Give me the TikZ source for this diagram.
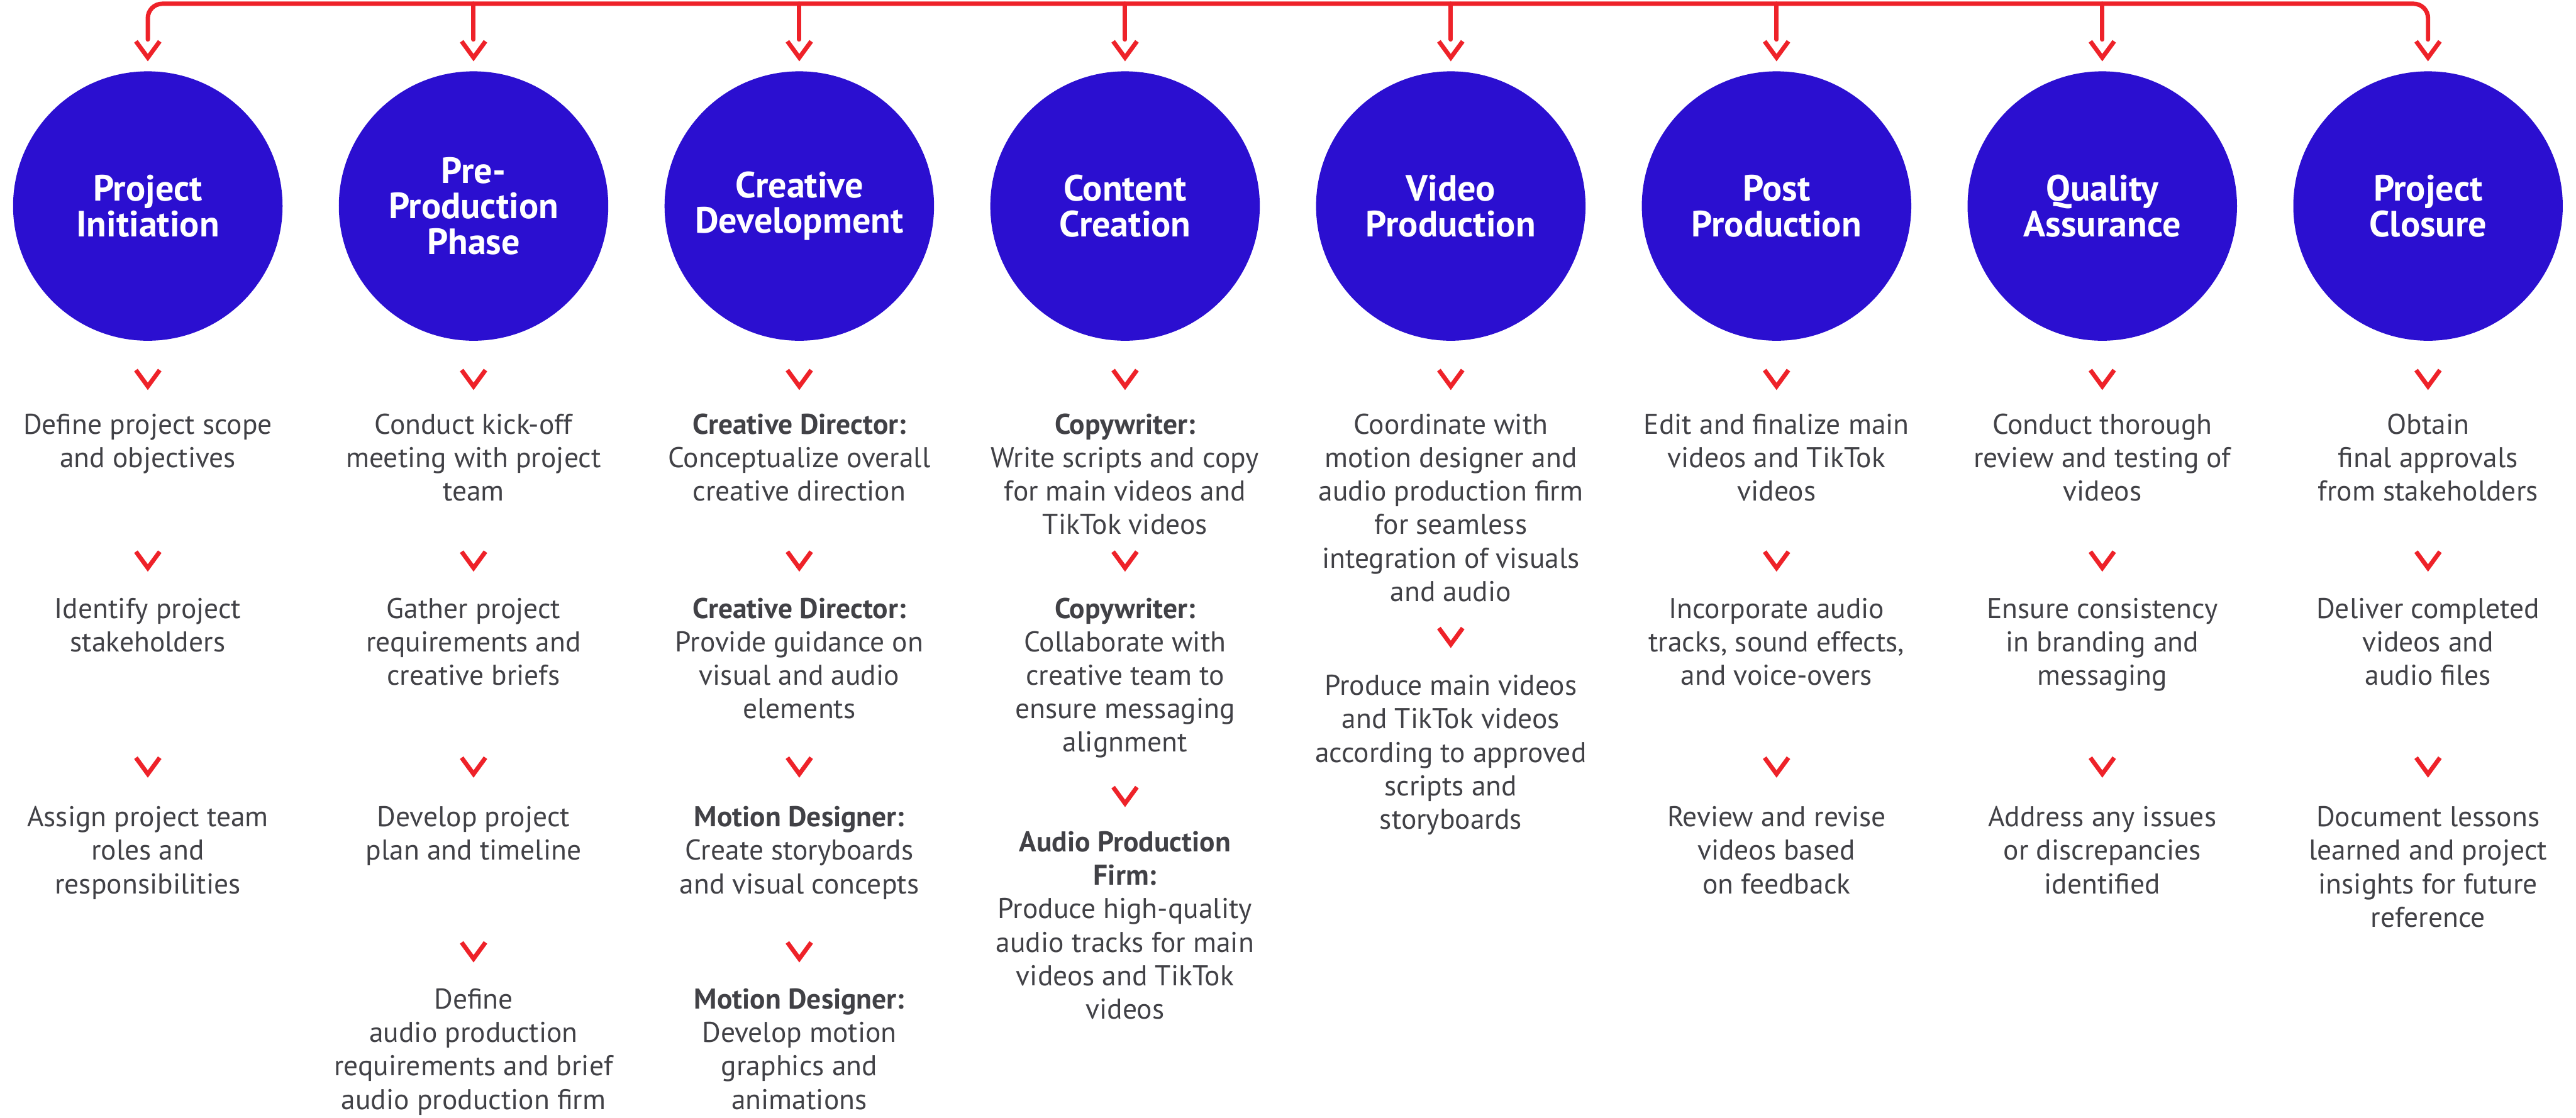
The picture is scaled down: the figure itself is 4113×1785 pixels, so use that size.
\documentclass[tikz,border=0pt]{standalone}
\usepackage{fontspec}
\setmainfont{PT Sans}
\usepackage{xcolor}
\usepackage{tikz}

\definecolor{phaseblue}{HTML}{2B0FD0}
\definecolor{flowred}{HTML}{EE2229}
\definecolor{bodygray}{HTML}{414146}

\tikzset{
  phase/.style={circle, fill=phaseblue, minimum size=4.3cm, inner sep=0pt,
    text=white, align=center, font=\fontsize{16.6}{16.2}\selectfont\bfseries},
  steptext/.style={anchor=north, inner sep=0pt, align=center, text=bodygray,
    font=\fontsize{13}{15.2}\selectfont},
  bus/.style={draw=flowred, line width=0.7mm, line cap=round, rounded corners=2.3mm},
  chev/.style={draw=flowred, line width=0.7mm, miter limit=10},
  chevron/.pic={\draw[chev] (-1.9mm,1.5mm) -- (0,-1.1mm) -- (1.9mm,1.5mm);}
}

\begin{document}
\begin{tikzpicture}[x=0.01cm, y=-0.01cm]
\useasboundingbox (0,0) rectangle (4113,1785);

% phase circles
\foreach \i/\name in {1/{Project\\Initiation}, 2/{Pre-\\Production\\Phase},
    3/{Creative\\Development}, 4/{Content\\Creation}, 5/{Video\\Production},
    6/{Post\\Production}, 7/{Quality\\Assurance}, 8/{Project\\Closure}}
  \node[phase] (c\i) at ({236+520.1*(\i-1)},329) {\name};

% rows
\coordinate (bus) at (0,6);
\coordinate (drop) at (0,63);
\coordinate (vtop) at (0,81);
\coordinate (vA) at (0,606);
\coordinate (vB) at (0,896);
\coordinate (vC) at (0,1225);
\coordinate (vD) at (0,1520);
\coordinate (vB5) at (0,1018);
\coordinate (vC4) at (0,1272);
\coordinate (tA) at (0,655);
\coordinate (tB) at (0,949);
\coordinate (tC) at (0,1282);
\coordinate (tD) at (0,1573);
\coordinate (tB5) at (0,1072);
\coordinate (tC4) at (0,1322);

% top bus
\draw[bus] (c1 |- drop) -- (c1 |- bus) -- (c8 |- bus) -- (c8 |- drop);
\foreach \i in {2,...,7}
  \draw[bus] (c\i |- bus) -- (c\i |- drop);
\foreach \i in {1,...,8}
  \pic at (c\i |- vtop) {chevron};

% chevrons between steps
\foreach \i in {1,...,8}
  \pic at (c\i |- vA) {chevron};
\foreach \i in {1,2,3,4,6,7,8}
  \pic at (c\i |- vB) {chevron};
\foreach \i in {1,2,3,6,7,8}
  \pic at (c\i |- vC) {chevron};
\foreach \i in {2,3}
  \pic at (c\i |- vD) {chevron};
\pic at (c4 |- vC4) {chevron};
\pic at (c5 |- vB5) {chevron};

% Project Initiation
\node[steptext] (s1a) at (c1 |- tA) {\strut Define project scope\\and objectives};
\node[steptext] (s1b) at (c1 |- tB) {\strut Identify project\\stakeholders};
\node[steptext] (s1c) at (c1 |- tC) {\strut Assign project team\\roles and\\responsibilities};

% Pre-Production Phase
\node[steptext] (s2a) at (c2 |- tA) {\strut Conduct kick-off\\meeting with project\\team};
\node[steptext] (s2b) at (c2 |- tB) {\strut Gather project\\requirements and\\creative briefs};
\node[steptext] (s2c) at (c2 |- tC) {\strut Develop project\\plan and timeline};
\node[steptext] (s2d) at (c2 |- tD) {\strut Define\\audio production\\requirements and brief\\audio production firm};

% Creative Development
\node[steptext] (s3a) at (c3 |- tA) {\strut\textbf{Creative Director:}\\Conceptualize overall\\creative direction};
\node[steptext] (s3b) at (c3 |- tB) {\strut\textbf{Creative Director:}\\Provide guidance on\\visual and audio\\elements};
\node[steptext] (s3c) at (c3 |- tC) {\strut\textbf{Motion Designer:}\\Create storyboards\\and visual concepts};
\node[steptext] (s3d) at (c3 |- tD) {\strut\textbf{Motion Designer:}\\Develop motion\\graphics and\\animations};

% Content Creation
\node[steptext] (s4a) at (c4 |- tA) {\strut\textbf{Copywriter:}\\Write scripts and copy\\for main videos and\\TikTok videos};
\node[steptext] (s4b) at (c4 |- tB) {\strut\textbf{Copywriter:}\\Collaborate with\\creative team to\\ensure messaging\\alignment};
\node[steptext] (s4c) at (c4 |- tC4) {\strut\textbf{Audio Production}\\\textbf{Firm:}\\Produce high-quality\\audio tracks for main\\videos and TikTok\\videos};

% Video Production
\node[steptext] (s5a) at (c5 |- tA) {\strut Coordinate with\\motion designer and\\audio production firm\\for seamless\\integration of visuals\\and audio};
\node[steptext] (s5b) at (c5 |- tB5) {\strut Produce main videos\\and TikTok videos\\according to approved\\scripts and\\storyboards};

% Post Production
\node[steptext] (s6a) at (c6 |- tA) {\strut Edit and finalize main\\videos and TikTok\\videos};
\node[steptext] (s6b) at (c6 |- tB) {\strut Incorporate audio\\tracks, sound effects,\\and voice-overs};
\node[steptext] (s6c) at (c6 |- tC) {\strut Review and revise\\videos based\\on feedback};

% Quality Assurance
\node[steptext] (s7a) at (c7 |- tA) {\strut Conduct thorough\\review and testing of\\videos};
\node[steptext] (s7b) at (c7 |- tB) {\strut Ensure consistency\\in branding and\\messaging};
\node[steptext] (s7c) at (c7 |- tC) {\strut Address any issues\\or discrepancies\\identified};

% Project Closure
\node[steptext] (s8a) at (c8 |- tA) {\strut Obtain\\final approvals\\from stakeholders};
\node[steptext] (s8b) at (c8 |- tB) {\strut Deliver completed\\videos and\\audio files};
\node[steptext] (s8c) at (c8 |- tC) {\strut Document lessons\\learned and project\\insights for future\\reference};
\end{tikzpicture}
\end{document}
